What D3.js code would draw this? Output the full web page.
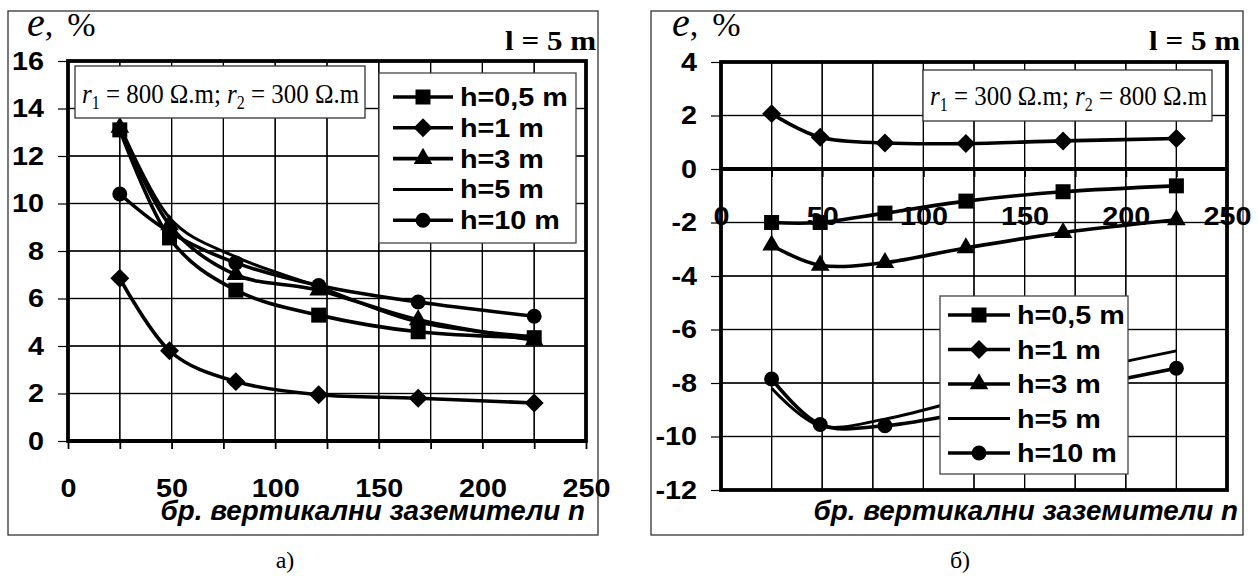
<!DOCTYPE html>
<html><head><meta charset="utf-8">
<script src="https://cdn.jsdelivr.net/npm/d3@7"></script>
<style>
body{margin:0;background:#fff}
svg{display:block}
.sans{font-family:"Liberation Sans",Arial,sans-serif;font-weight:bold}
.serif{font-family:"Liberation Serif","Times New Roman",serif}
</style>
</head><body>
<svg id="fig" width="1258" height="576"></svg>
<script>
// number of vertical earth rods n
const nValues = [25, 49, 81, 121, 169, 225];
const seriesNames = ["h=0,5 m", "h=1 m", "h=3 m", "h=5 m", "h=10 m"];
const seriesMarkers = ["square", "diamond", "triangle", "none", "circle"];

// panel а): r1 = 800 Ω.m, r2 = 300 Ω.m  — error e, %
const errA_h05 = [13.1, 8.55, 6.35, 5.3, 4.6, 4.35];
const errA_h1  = [6.85, 3.8, 2.5, 1.95, 1.8, 1.6];
const errA_h3  = [13.2, 9.1, 7.0, 6.35, 5.1, 4.25];
const errA_h5  = [13.3, 9.4, 7.75, 6.5, 5.0, 4.4];
const errA_h10 = [10.4, 8.8, 7.5, 6.55, 5.85, 5.25];

// panel б): r1 = 300 Ω.m, r2 = 800 Ω.m  — error e, %
const errB_h05 = [-2.0, -2.0, -1.65, -1.2, -0.85, -0.63];
const errB_h1  = [2.07, 1.19, 0.97, 0.95, 1.05, 1.14];
const errB_h3  = [-2.85, -3.6, -3.5, -2.95, -2.38, -1.9];
const errB_h5  = [-8.2, -9.6, -9.35, -8.6, -7.7, -6.8];
const errB_h10 = [-7.85, -9.55, -9.6, -9.1, -8.3, -7.45];

const xTicks = [0, 50, 100, 150, 200, 250];
const xGrid = [0, 25, 50, 75, 100, 125, 150, 175, 200, 225, 250];
const yTicksA = [0, 2, 4, 6, 8, 10, 12, 14, 16];
const yTicksB = [-12, -10, -8, -6, -4, -2, 0, 2, 4];

const xTitle = "бр. вертикални заземители n";
const SX = 1.15; // horizontal glyph stretch
const LW = 3.6;  // series line width

const svg = d3.select("#fig");

function stretchText(sel, x, y, sx) {
  sel.attr("transform", `translate(${x},${y}) scale(${sx || SX},1)`);
}

function markerPath(m) {
  if (m === "square") return d3.symbol(d3.symbolSquare, 225)();
  if (m === "diamond") return d3.symbol(d3.symbolSquare, 180)();
  if (m === "triangle") return d3.symbol(d3.symbolTriangle, 150)();
  return d3.symbol(d3.symbolCircle, 175)();
}

const plain = d => String(d);

function drawPanel(cfg) {
  const g = svg.append("g");
  const [fx0, fy0, fx1, fy1] = cfg.frame;
  g.append("rect").attr("x", fx0).attr("y", fy0).attr("width", fx1 - fx0).attr("height", fy1 - fy0)
    .attr("fill", "#fff").attr("stroke", "#333").attr("stroke-width", 1.3);

  const p = cfg.plot;
  const x = d3.scaleLinear().domain([0, 250]).range([p.left, p.right]);
  const y = d3.scaleLinear().domain(cfg.yDomain).range([p.bottom, p.top]);
  const W = p.right - p.left, H = p.bottom - p.top;
  const y0 = y(0);

  // grid: one outlined cell per 25 × 2 step
  const cells = [];
  for (let i = 0; i < xGrid.length - 1; i++)
    for (let j = 0; j < cfg.yTicks.length - 1; j++)
      cells.push({x0: xGrid[i], x1: xGrid[i + 1], y0: cfg.yTicks[j], y1: cfg.yTicks[j + 1]});
  g.append("g").selectAll("rect").data(cells).enter().append("rect")
    .attr("x", d => x(d.x0)).attr("y", d => y(d.y1))
    .attr("width", d => x(d.x1) - x(d.x0)).attr("height", d => y(d.y0) - y(d.y1))
    .attr("fill", "none").attr("stroke", "#000").attr("stroke-width", 1.2);

  // y axis
  const ya = g.append("g").attr("transform", `translate(${p.left},0)`)
    .call(d3.axisLeft(y).tickValues(cfg.yTicks).tickSize(10).tickPadding(13).tickFormat(plain));
  ya.select(".domain").remove();
  ya.selectAll("line").attr("stroke", "#000").attr("stroke-width", 1.2);
  ya.selectAll("text").attr("class", "sans").attr("font-size", 25).attr("fill", "#000")
    .attr("transform", `scale(${SX},1)`).attr("x", -24 / SX);

  // x axis minor ticks (at y = 0)
  const xm = g.append("g").attr("transform", `translate(0,${y0})`)
    .call(d3.axisBottom(x).tickValues(xGrid).tickSize(8).tickFormat(""));
  xm.select(".domain").remove();
  xm.selectAll("line").attr("stroke", "#000").attr("stroke-width", 1.8);

  // plot border and zero line
  g.append("rect").attr("x", p.left).attr("y", p.top).attr("width", W).attr("height", H)
    .attr("fill", "none").attr("stroke", "#000").attr("stroke-width", 3.8);
  g.append("line").attr("x1", p.left).attr("x2", p.right).attr("y1", y0).attr("y2", y0)
    .attr("stroke", "#000").attr("stroke-width", 3.8);

  // series
  const line = d3.line().x((d, i) => x(nValues[i])).y(d => y(d)).curve(d3.curveCardinal.tension(0));
  const sg = g.append("g");
  cfg.series.forEach((vals, k) => {
    sg.append("path").attr("d", line(vals)).attr("fill", "none").attr("stroke", "#000")
      .attr("stroke-width", seriesMarkers[k] === "none" ? LW - 0.6 : LW).attr("stroke-linejoin", "round");
  });
  cfg.series.forEach((vals, k) => {
    const m = seriesMarkers[k];
    if (m === "none") return;
    sg.append("g").selectAll("path").data(vals).join("path")
      .attr("d", markerPath(m))
      .attr("transform", (d, i) => `translate(${x(nValues[i])},${y(d)})` + (m === "diamond" ? " rotate(45)" : ""))
      .attr("fill", "#000");
  });

  // x tick labels
  const xa = g.append("g").attr("transform", `translate(0,${y0})`)
    .call(d3.axisBottom(x).tickValues(xTicks).tickSize(0).tickPadding(38).tickFormat(plain));
  xa.select(".domain").remove();
  xa.selectAll("text").attr("class", "sans").attr("font-size", 25).attr("fill", "#000")
    .attr("transform", `scale(${SX},1)`);

  // axis title
  const tt = g.append("text").attr("class", "sans").attr("font-size", 27).attr("font-style", "italic")
    .attr("text-anchor", "end").text(xTitle);
  stretchText(tt, cfg.titleX, cfg.titleY, 1.03);

  // "e, %"
  const et = g.append("text").attr("class", "serif").attr("transform", `translate(${cfg.eX},${cfg.eY})`);
  et.append("tspan").attr("font-style", "italic").attr("font-size", 40).text("e");
  et.append("tspan").attr("font-size", 34).text(",");
  et.append("tspan").attr("font-size", 34).attr("dx", 14).text("%");

  // "l = 5 m"
  const lt = g.append("text").attr("class", "serif").attr("font-weight", "bold").attr("font-size", 27)
    .attr("text-anchor", "end").text("l = 5 m");
  stretchText(lt, cfg.lX, cfg.lY);

  // resistivity note
  const a = cfg.note;
  g.append("rect").attr("x", a.x).attr("y", a.y).attr("width", a.w).attr("height", a.h)
    .attr("fill", "#fff").attr("stroke", "#333").attr("stroke-width", 1.3);
  const nt = g.append("text").attr("class", "serif").attr("font-size", 28);
  nt.append("tspan").attr("font-style", "italic").text("r");
  nt.append("tspan").attr("font-size", 18).attr("dy", 6).text("1");
  nt.append("tspan").attr("dy", -6).text(" = " + a.r1 + " Ω.m; ");
  nt.append("tspan").attr("font-style", "italic").text("r");
  nt.append("tspan").attr("font-size", 18).attr("dy", 6).text("2");
  nt.append("tspan").attr("dy", -6).text(" = " + a.r2 + " Ω.m");
  nt.attr("transform", `translate(${a.tx},${a.ty}) scale(0.89,1)`);

  // legend
  const L = cfg.legend;
  const lg = g.append("g");
  lg.append("rect").attr("x", L.x).attr("y", L.y).attr("width", L.w).attr("height", L.h)
    .attr("fill", "#fff").attr("stroke", "#444").attr("stroke-width", 1.3);
  seriesNames.forEach((name, k) => {
    const ry = L.row0 + k * L.step;
    lg.append("line").attr("x1", L.l0).attr("x2", L.l1).attr("y1", ry).attr("y2", ry)
      .attr("stroke", "#000").attr("stroke-width", seriesMarkers[k] === "none" ? LW - 0.6 : LW);
    const m = seriesMarkers[k];
    if (m !== "none") {
      lg.append("path").attr("d", markerPath(m))
        .attr("transform", `translate(${(L.l0 + L.l1) / 2},${ry})` + (m === "diamond" ? " rotate(45)" : ""))
        .attr("fill", "#000");
    }
    const t = lg.append("text").attr("class", "sans").attr("font-size", 25).attr("dy", "0.36em").text(name);
    stretchText(t, L.tx, ry);
  });

  // sub-figure caption
  g.append("text").attr("class", "serif").attr("font-size", 24).attr("text-anchor", "middle")
    .attr("x", cfg.capX).attr("y", 568).text(cfg.caption);
}

drawPanel({
  frame: [8, 11, 598, 535],
  plot: {left: 68, right: 586, top: 61, bottom: 441},
  yDomain: [0, 16], yTicks: yTicksA,
  series: [errA_h05, errA_h1, errA_h3, errA_h5, errA_h10],
  titleX: 585, titleY: 520,
  eX: 27, eY: 36, lX: 596, lY: 50,
  note: {x: 75, y: 66, w: 290, h: 52, tx: 82, ty: 103, r1: "800", r2: "300"},
  legend: {x: 379, y: 73, w: 197, h: 170, row0: 97, step: 30.8, l0: 393, l1: 453, tx: 460},
  capX: 285, caption: "а)"
});

drawPanel({
  frame: [651, 11, 1243, 535],
  plot: {left: 721, right: 1227, top: 62, bottom: 490},
  yDomain: [-12, 4], yTicks: yTicksB,
  series: [errB_h05, errB_h1, errB_h3, errB_h5, errB_h10],
  titleX: 1238, titleY: 520,
  eX: 672, eY: 36, lX: 1240, lY: 50,
  note: {x: 923, y: 70, w: 289, h: 51, tx: 930, ty: 105, r1: "300", r2: "800"},
  legend: {x: 940, y: 296, w: 188, h: 178, row0: 315, step: 34.5, l0: 948, l1: 1010, tx: 1017},
  capX: 960, caption: "б)"
});
</script>
</body></html>
